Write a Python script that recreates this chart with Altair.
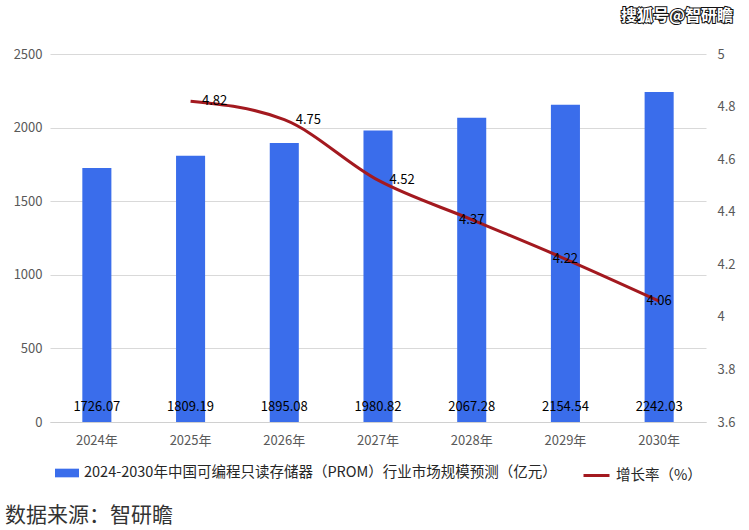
import altair as alt
import pandas as pd

years = ["2024年", "2025年", "2026年", "2027年", "2028年", "2029年", "2030年"]
market = [1726.07, 1809.19, 1895.08, 1980.82, 2067.28, 2154.54, 2242.03]
growth = [None, 4.82, 4.75, 4.52, 4.37, 4.22, 4.06]

bar_name = "2024-2030年中国可编程只读存储器（PROM）行业市场规模预测（亿元）"
line_name = "增长率（%）"
source_text = "数据来源：智研瞻"
watermark = "搜狐号@智研瞻"

FONT = "Noto Sans CJK SC"
BLUE = "#3A6DEB"
RED = "#A3191F"

df = pd.DataFrame({"year": years, "market": market, "growth": growth})
df["idx"] = range(len(df))
df["zero"] = 0

x_enc = alt.X(
    "year:N",
    sort=years,
    scale=alt.Scale(paddingInner=0.69, paddingOuter=0.345),
    axis=alt.Axis(
        title=None, labelAngle=0, ticks=False, domain=True, domainColor="#D0D0D0",
        labelColor="#595959", labelFontSize=13, labelFont=FONT, labelPadding=12,
        grid=False,
    ),
)

left_axis = alt.Axis(
    title=None, values=[0, 500, 1000, 1500, 2000, 2500], ticks=False,
    domain=False, gridColor="#D9D9D9", labelColor="#595959", format="d",
    labelFontSize=13, labelFont=FONT, labelPadding=8,
)
right_axis = alt.Axis(
    title=None, orient="right", values=[3.6, 3.8, 4.0, 4.2, 4.4, 4.6, 4.8, 5.0],
    ticks=False, domain=False, grid=False, labelColor="#595959",
    labelFontSize=13, labelFont=FONT, labelPadding=11,
    labelExpr="datum.value == 4 ? '4' : datum.value == 5 ? '5' : format(datum.value, '.1f')",
)
left_scale = alt.Scale(domain=[0, 2500])
right_scale = alt.Scale(domain=[3.6, 5.0], zero=False)

base = alt.Chart(df)

bars = base.mark_bar(color=BLUE).encode(
    x=x_enc,
    y=alt.Y("market:Q", scale=left_scale, axis=left_axis),
    fill=alt.Fill(
        "bar_label:N",
        scale=alt.Scale(domain=[bar_name], range=[BLUE]),
        legend=alt.Legend(
            title=None, orient="none", legendX=5, legendY=407,
            symbolType="M-1,-0.36H1V0.36H-1Z", symbolSize=576,
            symbolStrokeWidth=0, labelFontSize=14.5, labelFont=FONT,
            labelColor="#262626", labelLimit=0, padding=0, labelOffset=5,
        ),
    ),
).transform_calculate(bar_label=f"'{bar_name}'")

bar_text = base.mark_text(
    baseline="middle", dy=-15, fontSize=13, font=FONT, color="#000000"
).encode(
    x=alt.X("year:N", sort=years),
    y=alt.Y("zero:Q", scale=left_scale, axis=left_axis),
    text=alt.Text("market:Q", format=".2f"),
)

left = alt.layer(bars, bar_text)

line_base = base.transform_filter("isValid(datum.growth)")

line = line_base.mark_line(interpolate="monotone", strokeWidth=3).encode(
    x=alt.X("year:N", sort=years),
    y=alt.Y("growth:Q", scale=right_scale, axis=right_axis),
    stroke=alt.Stroke(
        "line_label:N",
        scale=alt.Scale(domain=[line_name], range=[RED]),
        legend=alt.Legend(
            title=None, orient="none", legendX=532, legendY=407,
            symbolType="stroke", symbolSize=676, symbolStrokeWidth=3,
            labelFontSize=14.5, labelFont=FONT, labelColor="#262626",
            labelLimit=0, padding=0, labelOffset=5,
        ),
    ),
).transform_calculate(line_label=f"'{line_name}'")

line_text_a = line_base.transform_filter("datum.idx <= 3").mark_text(
    baseline="middle", align="center", dx=24, fontSize=13, font=FONT, color="#000000"
).encode(
    x=alt.X("year:N", sort=years),
    y=alt.Y("growth:Q", scale=right_scale, axis=right_axis),
    text=alt.Text("growth:Q", format=".2f"),
)

line_text_b = line_base.transform_filter("datum.idx > 3").mark_text(
    baseline="middle", align="center", dx=0, fontSize=13, font=FONT, color="#000000"
).encode(
    x=alt.X("year:N", sort=years),
    y=alt.Y("growth:Q", scale=right_scale, axis=right_axis),
    text=alt.Text("growth:Q", format=".2f"),
)

right = alt.layer(line, line_text_a, line_text_b)

src = alt.Chart(pd.DataFrame({"t": [source_text]})).mark_text(
    align="left", baseline="middle", fontSize=21, font=FONT, color="#333333"
).encode(x=alt.value(-45), y=alt.value(462), text="t:N")

wm_data = pd.DataFrame({"t": [watermark]})
wm_stroke = alt.Chart(wm_data).mark_text(
    align="right", baseline="middle", fontSize=16, fontWeight="bold", font=FONT,
    fill="#111111", stroke="#111111", strokeWidth=2,
).encode(x=alt.value(683), y=alt.value(-38), text="t:N")
wm_fill = alt.Chart(wm_data).mark_text(
    align="right", baseline="middle", fontSize=16, fontWeight="bold", font=FONT,
    fill="#FFFFFF",
).encode(x=alt.value(683), y=alt.value(-38), text="t:N")

chart = alt.layer(left, right, src, wm_stroke, wm_fill).resolve_scale(
    y="independent", fill="independent", stroke="independent"
).properties(
    width=656, height=368,
    autosize=alt.AutoSizeParams(type="none"),
    padding={"left": 50, "top": 54, "right": 43, "bottom": 108},
    background="#FFFFFF",
).configure_view(stroke=None)

chart.save("out.html", embed_options={"renderer": "svg", "actions": False})
